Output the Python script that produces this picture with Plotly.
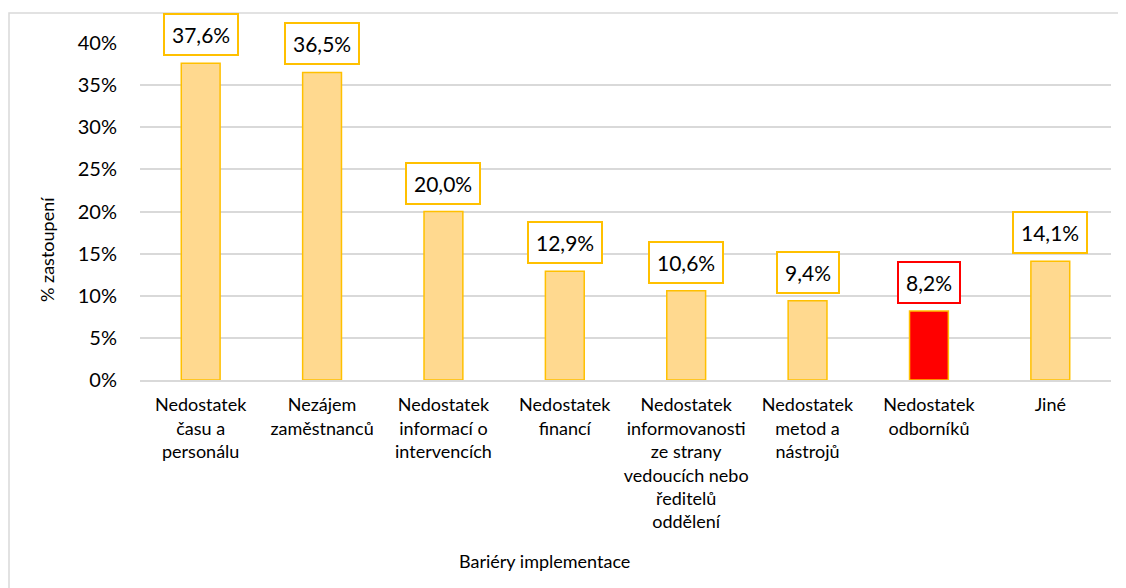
import plotly.graph_objects as go

categories = [
    "Nedostatek<br>času a<br>personálu",
    "Nezájem<br>zaměstnanců",
    "Nedostatek<br>informací o<br>intervencích",
    "Nedostatek<br>financí",
    "Nedostatek<br>informovanosti<br>ze strany<br>vedoucích nebo<br>ředitelů<br>oddělení",
    "Nedostatek<br>metod a<br>nástrojů",
    "Nedostatek<br>odborníků",
    "Jiné",
]
values = [0.376, 0.365, 0.200, 0.129, 0.106, 0.094, 0.082, 0.141]
labels = ["37,6%", "36,5%", "20,0%", "12,9%", "10,6%", "9,4%", "8,2%", "14,1%"]
highlight = [False, False, False, False, False, False, True, False]
y_ticks = [0, 0.05, 0.10, 0.15, 0.20, 0.25, 0.30, 0.35, 0.40]
y_ticktext = ["0%", "5%", "10%", "15%", "20%", "25%", "30%", "35%", "40%"]

FONT = "Lato"
BAR = "#FFD98F"
BAR_EDGE = "#FFC000"
RED = "#FF0000"

fill = [RED if h else BAR for h in highlight]

# page is offset by 8px body margin
OFF = 8
W, H = 1126 - OFF, 588 - OFF
L, R, T = 140 - OFF, 1126 - 1111, 43 - OFF
B = H - (380 - OFF)
pw, ph = W - L - R, H - T - B


def px_x(x):
    return (x - OFF - L) / pw


def px_y(y):
    return (H - B - (y - OFF)) / ph


fig = go.Figure()
fig.add_trace(go.Bar(
    x=categories, y=values,
    marker=dict(color=fill, line=dict(color=BAR_EDGE, width=1.5)),
    width=0.32, hoverinfo="skip",
))

for c, v, t, h in zip(categories, values, labels, highlight):
    fig.add_annotation(
        x=c, y=v, text=t, showarrow=False, xanchor="center", yanchor="bottom",
        yshift=7, font=dict(family=FONT, size=21, color="#000000"),
        bgcolor="white", bordercolor=RED if h else BAR_EDGE, borderwidth=2, borderpad=7,
    )

fig.add_annotation(
    xref="paper", yref="paper", x=px_x(47), y=px_y(250),
    xanchor="center", yanchor="middle",
    text="% zastoupení", textangle=-90, showarrow=False,
    font=dict(family=FONT, size=18, color="#000000"),
)
fig.add_annotation(
    xref="paper", yref="paper", x=px_x(544), y=px_y(561),
    xanchor="center", yanchor="middle",
    text="Bariéry implementace", showarrow=False,
    font=dict(family=FONT, size=18, color="#000000"),
)

fig.add_shape(
    type="rect", xref="paper", yref="paper",
    x0=px_x(9), x1=px_x(1140), y0=px_y(600), y1=px_y(13),
    line=dict(color="#D9D9D9", width=1.5), fillcolor="rgba(0,0,0,0)", layer="below",
)

fig.update_layout(
    width=W, height=H,
    margin=dict(l=L, r=R, t=T, b=B),
    paper_bgcolor="white", plot_bgcolor="white",
    showlegend=False,
    font=dict(family=FONT, size=18, color="#000000"),
)
fig.update_xaxes(
    showgrid=False, showline=True, linecolor="#D9D9D9", linewidth=1.5,
    ticks="", tickfont=dict(family=FONT, size=18), ticklabelstandoff=8,
    tickangle=0,
)
fig.update_yaxes(
    range=[0, 0.40], tickvals=y_ticks, ticktext=y_ticktext,
    showgrid=True, gridcolor="#D9D9D9", gridwidth=1.5, zeroline=False,
    showline=False, ticks="", ticklabelstandoff=22,
    tickfont=dict(family=FONT, size=20),
)

fig.write_html("out.html")
